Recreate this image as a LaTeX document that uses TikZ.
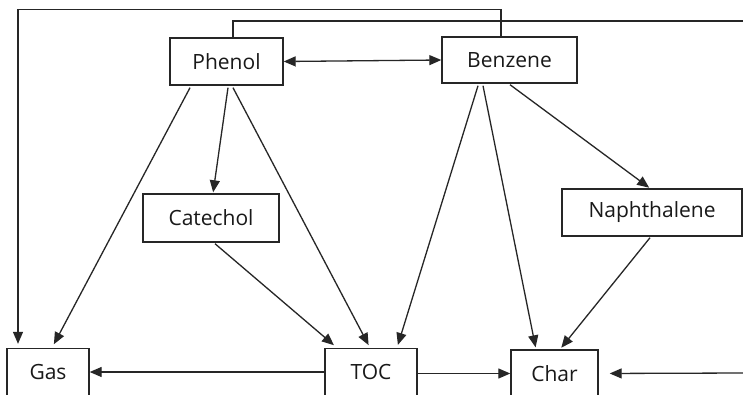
\documentclass[tikz,border=0pt]{standalone}
\usepackage{fontspec}
\setmainfont{Open Sans}
\usetikzlibrary{arrows.meta}
\begin{document}
\begin{tikzpicture}[x=1pt,y=-1pt,
  box/.style={draw=black!85,line width=1.4pt,fill=white,inner sep=0pt,text=black!90,font=\fontsize{21}{24}\selectfont},
  arr/.style={draw=black!85,line width=1.3pt,-{Triangle[length=12pt,width=10pt]}},
  darr/.style={draw=black!85,line width=1.3pt,{Triangle[length=12pt,width=10pt]}-{Triangle[length=12pt,width=10pt]}},
  ln/.style={draw=black!85,line width=1.3pt}]
\useasboundingbox (0,0) rectangle (743,394);
\clip (0,0) rectangle (743,394);
\fill[white] (0,0) rectangle (743,394);
\node[box,minimum width=113pt,minimum height=47pt] (phenol) at (226.5,61.5) {Phenol};
\node[box,minimum width=135pt,minimum height=46pt] (benzene) at (509.5,60) {Benzene};
\node[box,minimum width=136pt,minimum height=48pt] (catechol) at (211,218) {Catechol};
\node[box,minimum width=180pt,minimum height=47pt] (naph) at (652,212.5) {Naphthalene};
\node[box,minimum width=82pt,minimum height=47pt] (gas) at (48,372) {Gas};
\node[box,minimum width=92pt,minimum height=47pt] (toc) at (371,372) {TOC};
\node[box,minimum width=87pt,minimum height=47pt] (char) at (554.5,373.5) {Char};
\coordinate (eR1) at (743,21);
\coordinate (eR2) at (743,373);
% top routes
\draw[arr,shorten >=4pt] ([xshift=-8.5pt]benzene.north) -- ++(0,-27) -| ([xshift=-30pt]gas.north);
\draw[ln] ([xshift=6.5pt]phenol.north) |- (eR1);
\draw[arr,shorten >=11pt] (eR2) -- (char.east);
% double arrow
\draw[darr] (phenol.east) -- (benzene.west);
% phenol
\draw[arr,shorten >=4pt] ([xshift=-36.5pt,yshift=-2pt]phenol.south) -- ([xshift=4pt]gas.north);
\draw[arr,shorten >=1pt] ([xshift=1.5pt,yshift=-2pt]phenol.south) -- ([xshift=2pt]catechol.north);
\draw[arr,shorten >=3pt] ([xshift=6.5pt,yshift=-2pt]phenol.south) -- ([xshift=-1pt]toc.north);
\draw[arr,shorten >=4pt] ([xshift=4pt,yshift=-1pt]catechol.south) -- ([xshift=-34pt]toc.north);
% benzene
\draw[arr,shorten >=3pt] ([xshift=-31.5pt,yshift=-2pt]benzene.south) -- ([xshift=26pt]toc.north);
\draw[arr,shorten >=2pt] ([xshift=-26.5pt,yshift=-2pt]benzene.south) -- ([xshift=-18.5pt]char.north);
\draw[arr,shorten >=1pt] ([xshift=0.5pt,yshift=-1pt]benzene.south) -- ([xshift=-2pt]naph.north);
\draw[arr,shorten >=2pt] ([xshift=-2pt,yshift=-1pt]naph.south) -- ([xshift=5.5pt]char.north);
% bottom row
\draw[arr] (toc.west) -- (gas.east);
\draw[arr] (toc.east |- char.west) -- (char.west);
\end{tikzpicture}
\end{document}
